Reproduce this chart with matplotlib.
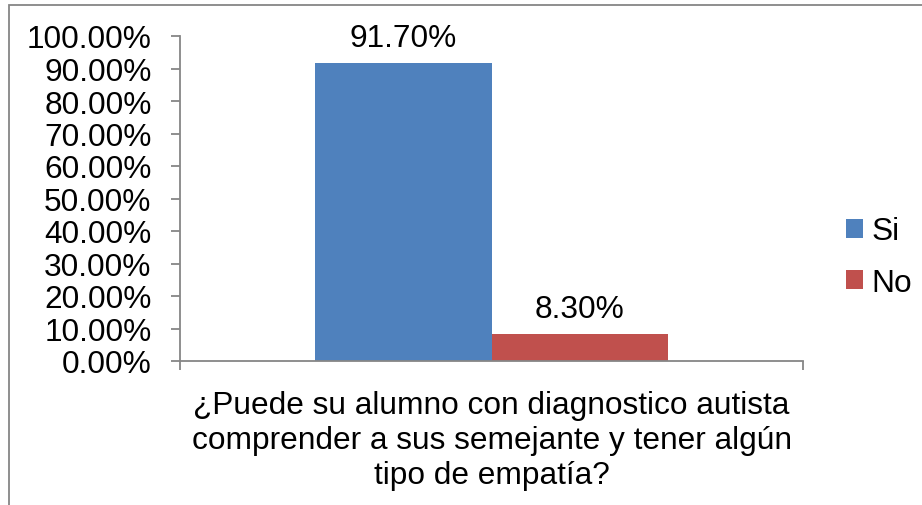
import matplotlib
matplotlib.use("Agg")
import matplotlib.pyplot as plt
from matplotlib.patches import Rectangle, Patch
from matplotlib.ticker import FuncFormatter

plt.rcParams['font.family'] = ['Liberation Sans', 'DejaVu Sans']

series = ["Si", "No"]
values = [91.70, 8.30]
colors = ["#4F81BD", "#C0504D"]
category_label = "¿Puede su alumno con diagnostico autista\ncomprender a sus semejante y tener algún\ntipo de empatía?"
yticks = [0, 10, 20, 30, 40, 50, 60, 70, 80, 90, 100]

FS = 22.8
W, H = 922, 506
fig = plt.figure(figsize=(W / 100, H / 100), dpi=100)
ax = fig.add_axes([180 / W, 1 - 362 / H, (803 - 180) / W, (362 - 37) / H])

bw = 0.284
offsets = [-bw / 2, bw / 2]
for name, v, c, off in zip(series, values, colors, offsets):
    ax.bar(off, v, width=bw, color=c, label=name)
    ax.text(off, v + 3.2, f"{v:.2f}%", ha="center", va="bottom", fontsize=FS)

ax.set_xlim(-0.5, 0.5)
ax.set_ylim(0, 100)
ax.set_yticks(yticks)
ax.yaxis.set_major_formatter(FuncFormatter(lambda y, _: f"{y:.2f}%"))
ax.set_xticks([-0.5, 0.5])
ax.set_xticklabels(["", ""])
ax.tick_params(axis="both", direction="out", length=6.5, width=1.3, color="#868686", labelsize=FS)
ax.tick_params(axis="y", pad=14)
for s in ["top", "right"]:
    ax.spines[s].set_visible(False)
for s in ["left", "bottom"]:
    ax.spines[s].set_color("#868686")
    ax.spines[s].set_linewidth(1.3)

ax.text(0.5, -0.088, category_label, transform=ax.transAxes, ha="center", va="top",
        fontsize=FS, linespacing=1.22)

handles = [Patch(facecolor=c, label=n) for n, c in zip(series, colors)]
fig.legend(handles=handles, loc="center left", bbox_to_anchor=(846 / W, 1 - 258 / H),
           frameon=False, fontsize=FS, handlelength=0.55, handleheight=0.55,
           handletextpad=0.25, labelspacing=0.67, borderpad=0, borderaxespad=0)

fig.patches.append(Rectangle((9 / W, -0.1), 1.2, 1 - 6 / H + 0.1, transform=fig.transFigure,
                             fill=False, edgecolor="#868686", linewidth=1.3))

fig.savefig("out.png", dpi=100)
